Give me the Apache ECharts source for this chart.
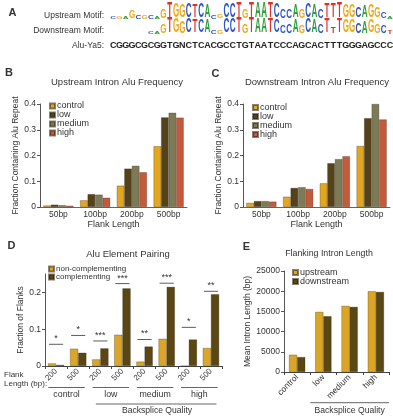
<!DOCTYPE html>
<html><head><meta charset="utf-8">
<script src="https://cdn.jsdelivr.net/npm/echarts@6/dist/echarts.min.js"></script>
<style>html,body{margin:0;padding:0;background:#fff}#c{width:393px;height:418px}</style>
</head><body><div id="c"></div><script>
// ---- data ----
const flankCats=['50bp','100bp','200bp','500bp'];
const upControl=[0.006,0.026,0.083,0.236];
const upLow=[0.009,0.050,0.149,0.348];
const upMedium=[0.007,0.048,0.160,0.366];
const upHigh=[0.005,0.036,0.135,0.347];
const dnControl=[0.016,0.040,0.092,0.237];
const dnLow=[0.023,0.074,0.170,0.345];
const dnMedium=[0.023,0.077,0.186,0.400];
const dnHigh=[0.021,0.070,0.197,0.340];
const pairCats=['200','500','200','500','200','500','200','500'];
const pairGroups=['control','low','medium','high'];
const nonComp=[0.007,0.047,0.018,0.085,0.012,0.074,0,0.049];
const comp=[0.003,0.036,0.048,0.211,0.053,0.215,0.072,0.195];
const sigLevel=[0.059,0.083,0.068,0.224,0.072,0.225,0.105,0.203];
const sigStars=['*','*','***','***','**','***','*','**'];
const qualCats=['control','low','medium','high'];
const upLen=[4280,14880,16370,19980];
const dnLen=[3700,13820,16120,19820];
const aluYa5='CGGGCGCGGTGNCTCACGCCTGTAATCCCAGCACTTTGGGAGCCC';
const upMotif='CGAGCGCAGTGGCTCACGCCTGTAATCCCAGCACTTTGGCAGGCA';
const upMotifH=[.15,.15,.15,.45,.2,.2,.2,.12,.55,.95,.85,.8,.9,.8,.85,.8,.2,.25,.9,.9,1,.6,1,.95,.95,.95,.85,.6,.6,.8,.55,.9,.8,.6,.9,.9,.95,.8,.8,.65,.75,.8,.65,.4,.15];
const dnMotif='      CAGTGGCTCACGCCTGTAATCCCAGCACTTTGGCAGGCT';
const dnMotifH=[0,0,0,0,0,0,.15,.15,.55,.95,.85,.75,.9,.8,.8,.8,.2,.2,.9,.9,1,.55,1,.9,.9,.9,.8,.5,.55,.8,.5,.9,.8,.55,.9,.4,.9,.8,.8,.65,.75,.8,.6,.5,.25];

// ---- style ----
const FF='"Liberation Sans", Arial, sans-serif';
const TXT='#333';
const colors={control:'#e2a71f',low:'#54431a',medium:'#7d7b57',high:'#c45a3c'};
const goldC='#dba627', brownC='#5b4713';
const logoColors={A:'#2e9e3a',C:'#2b55c8',G:'#f0a818',T:'#e03028'};

const chart=echarts.init(document.getElementById('c'),null,{renderer:'canvas'});

function xCat(gi,data,extra){
  return Object.assign({gridIndex:gi,type:'category',data:data,
    axisLine:{show:true,lineStyle:{color:'#666',width:1}},
    axisTick:{show:false},
    axisLabel:{fontSize:8.5,color:TXT,fontFamily:FF,margin:3},
    splitLine:{show:false}},extra||{});
}
function yVal(gi,max,interval,fmt,name,nameGap,extra){
  return Object.assign({gridIndex:gi,type:'value',min:0,max:max,interval:interval,
    axisLine:{show:true,lineStyle:{color:'#555',width:1}},
    axisTick:{show:true,length:3,lineStyle:{color:'#555'}},
    splitLine:{show:false},
    axisLabel:{fontSize:8.5,color:TXT,fontFamily:FF,margin:4,formatter:fmt},
    name:name,nameLocation:'middle',nameGap:nameGap,
    nameTextStyle:{fontSize:8.5,color:TXT,fontFamily:FF}},extra||{});
}
const fmt1=v=>v===0?'0':v.toFixed(1);
const bar=(name,data,gi,color,extra)=>Object.assign({type:'bar',name:name,data:data,xAxisIndex:gi,yAxisIndex:gi,
  itemStyle:{color:color,borderColor:'rgba(40,30,10,0.55)',borderWidth:0.5},barGap:'0%'},extra||{});
const legendBase=(data,left,top,fs,lh)=>({data:data,orient:'vertical',left:left,top:top,itemWidth:5,itemHeight:5,itemGap:0,
  icon:'rect',padding:0,selectedMode:false,textStyle:{fontSize:fs,lineHeight:lh,color:TXT,fontFamily:FF,padding:[0,0,0,-3]}});

const option={
  animation:false,
  grid:[
    {left:40,top:104,width:147,height:103},
    {left:243,top:104,width:147,height:103},
    {left:45,top:274,width:177,height:92},
    {left:284,top:271,width:105,height:101}
  ],
  xAxis:[
    xCat(0,flankCats,{name:'Flank Length',nameLocation:'middle',nameGap:12,nameTextStyle:{fontSize:9,color:TXT,fontFamily:FF}}),
    xCat(1,flankCats,{name:'Flank Length',nameLocation:'middle',nameGap:12,nameTextStyle:{fontSize:9,color:TXT,fontFamily:FF}}),
    xCat(2,pairCats,{axisLine:{lineStyle:{color:'#444'}},axisTick:{show:true,length:3,lineStyle:{color:'#444'}},axisLabel:{fontSize:8,color:TXT,fontFamily:FF,rotate:45,margin:4,interval:0}}),
    xCat(3,qualCats,{axisLine:{lineStyle:{color:'#444'}},axisTick:{show:true,length:3,lineStyle:{color:'#444'}},axisLabel:{fontSize:8.5,color:TXT,fontFamily:FF,rotate:45,margin:4,interval:0}})
  ],
  yAxis:[
    yVal(0,0.4,0.1,fmt1,'Fraction Containing Alu Repeat',17),
    yVal(1,0.4,0.1,fmt1,'Fraction Containing Alu Repeat',17),
    yVal(2,0.25,0.1,fmt1,'Fraction of Flanks',17,{}),
    yVal(3,25000,5000,v=>String(v),'Mean Intron Length (bp)',30)
  ],
  legend:[
    legendBase(['control','low','medium','high'],49,101.5,9,9),
    legendBase(['control','low','medium','high'],252,103,9,9),
    legendBase(['non-complementing','complementing'],48,265,8,8),
    legendBase(['upstream','downstream'],292,268,9,8)
  ],
  series:[
    bar('control',upControl,0,colors.control,{barCategoryGap:'18%'}),
    bar('low',upLow,0,colors.low),
    bar('medium',upMedium,0,colors.medium),
    bar('high',upHigh,0,colors.high),
    bar('control',dnControl,1,colors.control,{barCategoryGap:'18%'}),
    bar('low',dnLow,1,colors.low),
    bar('medium',dnMedium,1,colors.medium),
    bar('high',dnHigh,1,colors.high),
    bar('non-complementing',nonComp,2,goldC,{barCategoryGap:'26%'}),
    bar('complementing',comp,2,brownC),
    bar('upstream',upLen,3,goldC,{barCategoryGap:'38%'}),
    bar('downstream',dnLen,3,brownC),
    {type:'custom',xAxisIndex:2,yAxisIndex:2,silent:true,z:5,
     data:sigLevel.map((v,i)=>[i,v]),
     renderItem:(params,api)=>{
       const p=api.coord([api.value(0),api.value(1)]);
       const w=api.size([1,0])[0]*0.64;
       return {type:'group',children:[
         {type:'line',shape:{x1:p[0]-w/2,y1:p[1],x2:p[0]+w/2,y2:p[1]},style:{stroke:'#333',lineWidth:0.8}},
         {type:'text',x:p[0],y:p[1]-1,style:{text:sigStars[params.dataIndex],fill:'#333',font:'9px '+FF,align:'center',verticalAlign:'bottom'}}
       ]};
     }}
  ]
};
option.yAxis[2].axisLabel.showMaxLabel=false;
chart.setOption(option);

// ---- annotations / graphics ----
const g=[];
const txt=(x,y,text,font,align,va,fill,rot)=>g.push({type:'text',x:x,y:y,rotation:rot||0,silent:true,
  style:{text:text,font:font,fill:fill||TXT,align:align||'center',verticalAlign:va||'middle'}});
const line=(x1,y1,x2,y2,c)=>g.push({type:'line',silent:true,shape:{x1,y1,x2,y2},style:{stroke:c||'#555',lineWidth:1}});

// panel letters
txt(12.5,13,'A','bold 11px '+FF); txt(9,73,'B','bold 11px '+FF); txt(215.5,74,'C','bold 11px '+FF);
txt(11.5,246,'D','bold 11px '+FF); txt(246.5,246.5,'E','bold 11px '+FF);
// titles
txt(117,82.5,'Upstream Intron Alu Frequency','9.5px '+FF);
txt(317,82.5,'Downstream Intron Alu Frequency','9.5px '+FF);
txt(128,254,'Alu Element Pairing','9.5px '+FF);
txt(329,254,'Flanking Intron Length','8.8px '+FF);

// panel A
txt(104,16,'Upstream Motif:','8.5px '+FF,'right');
txt(104,31,'Downstream Motif:','8.5px '+FF,'right');
txt(104,46,'Alu-Ya5:','8.5px '+FF,'right');
const colX0=110,colW=6.29;
function logo(seq,h,base){
  for(let i=0;i<seq.length;i++){
    const ch=seq[i]; if(ch===' '||!h[i])continue;
    const s=h[i]*1.75;
    g.push({type:'text',x:colX0+colW*(i+0.5),y:base+1.6*s,scaleX:0.62,scaleY:s,silent:true,
      style:{text:ch,font:'bold 13px '+FF,fill:logoColors[ch],align:'center',verticalAlign:'bottom'}});
  }
}
logo(upMotif,upMotifH,19);
logo(dnMotif,dnMotifH,34.3);
for(let i=0;i<aluYa5.length;i++) txt(colX0+colW*(i+0.5),46,aluYa5[i],'bold 9px '+FF,'center','middle','#222');

// panel D group labels
const pxD=i=>chart.convertToPixel({xAxisIndex:2},i);
const bwD=177/8;
txt(4,374.5,'Flank','8px '+FF,'left'); txt(4,384,'Length (bp):','8px '+FF,'left');
pairGroups.forEach((name,k)=>{
  const a=pxD(2*k)-0.35*bwD, b=pxD(2*k+1)+0.3*bwD;
  line(a,387.5,b,387.5,'#666');
  txt((a+b)/2,394.5,name,'8.8px '+FF);
});
{ const a=pxD(2)-0.2*bwD, b=pxD(7)+0.25*bwD; line(a,404,b,404,'#666'); txt(157,411,'Backsplice Quality','8.6px '+FF); }
// panel E
const pxE=i=>chart.convertToPixel({xAxisIndex:3},i);
const bwE=105/4;
{ const a=pxE(1)-0.5*bwE, b=pxE(3)+0.5*bwE; line(a,402.7,b,402.7,'#666'); txt((a+b)/2,411,'Backsplice Quality','8.6px '+FF); }

chart.setOption({graphic:g});
</script></body></html>
